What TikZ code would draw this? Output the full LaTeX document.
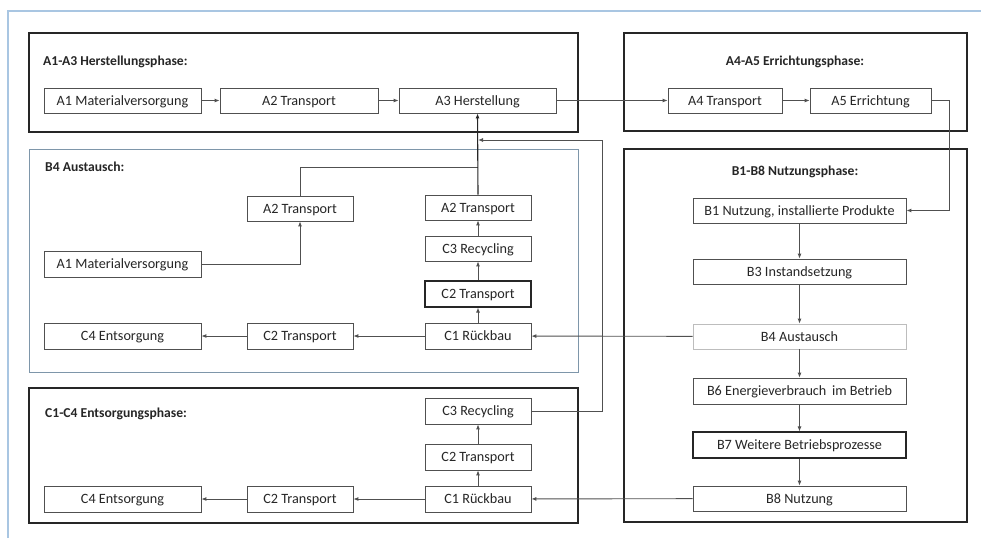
\documentclass[tikz,border=0pt]{standalone}
\usepackage{fontspec}
\setmainfont{Carlito}
\usetikzlibrary{arrows.meta,calc}
\definecolor{framebl}{HTML}{A9C6E2}
\definecolor{panelbl}{HTML}{7E96AA}
\definecolor{ink}{HTML}{262626}
\definecolor{edge}{HTML}{505050}
\definecolor{lightedge}{HTML}{BDBDBD}
\tikzset{
  box/.style={draw=edge, line width=0.8pt, fill=white, inner sep=0pt,
    text=ink, font=\fontsize{14.2}{16}\selectfont,
    text height=9.2pt, text depth=0pt},
  heavybox/.style={box, draw=ink, line width=1.1pt},
  faintbox/.style={box, draw=lightedge},
  phase/.style={draw=ink, line width=1.5pt, inner sep=0pt},
  title/.style={text=ink, font=\fontsize{13.6}{16}\selectfont\bfseries, inner sep=0pt},
  link/.style={draw=edge, line width=0.9pt},
  arr/.style={link, -{Latex[length=5pt,width=4pt]}},
}
\newcommand{\boxat}[6]{% style, name, x1, y1, x2, y2
  \node[#1, minimum width={#5-#3}, minimum height={#6-#4}] (#2)
    at ({(#3+#5)/2},{(#4+#6)/2})}
\begin{document}
\begin{tikzpicture}[x=1pt,y=-1pt]
\useasboundingbox (0,0) rectangle (981,538);
\fill[white] (0,0) rectangle (981,538);
% outer frame
\draw[framebl, line width=1.8pt] (8,538) -- (8,11) -- (981,11);

% phase panels
\boxat{phase}{pA}{29}{33}{578}{132}{};
\boxat{phase}{pE}{624}{33}{967}{131}{};
\boxat{phase}{pB}{624}{149}{967}{522}{};
\node[draw=panelbl, line width=1pt, inner sep=0pt, minimum width=549, minimum height=223]
  (pX) at (303.5,260.5) {};
\boxat{phase}{pC}{29}{388}{578}{523}{};

% panel titles
\node[title, anchor=west] (tA) at (43,62) {A1-A3 Herstellungsphase:};
\node[title] (tE) at (795,62) {A4-A5 Errichtungsphase:};
\node[title] (tB) at (795,172) {B1-B8 Nutzungsphase:};
\node[title, anchor=west] (tX) at (45,167) {B4 Austausch:};
\node[title, anchor=west] (tC) at (45,414) {C1-C4 Entsorgungsphase:};

% A1-A3 production
\boxat{box}{a1}{44}{88}{201}{113}{A1 Materialversorgung};
\boxat{box}{a2}{220}{88}{378}{113}{A2 Transport};
\boxat{box}{a3}{399}{88}{556}{113}{A3 Herstellung};
% A4-A5 construction
\boxat{box}{a4}{668}{88}{782}{113}{A4 Transport};
\boxat{box}{a5}{810}{88}{931}{113}{A5 Errichtung};

% B1-B8 use
\boxat{box}{b1}{693}{198}{906}{223}{B1 Nutzung, installierte Produkte};
\boxat{box}{b3}{693}{259}{906}{284}{B3 Instandsetzung};
\boxat{faintbox}{b4}{693}{324}{906}{349}{B4 Austausch};
\boxat{box}{b6}{693}{378}{906}{404}{B6 Energieverbrauch\, im Betrieb};
\boxat{heavybox}{b7}{693}{432}{906}{458}{B7 Weitere Betriebsprozesse};
\boxat{box}{b8}{693}{486}{906}{511}{B8 Nutzung};

% B4 replacement
\boxat{box}{xa2l}{247}{196}{353}{221}{A2 Transport};
\boxat{box}{xa1}{44}{251}{201}{277}{A1 Materialversorgung};
\boxat{box}{xa2r}{425}{195}{531}{220}{A2 Transport};
\boxat{box}{xc3}{425}{236}{531}{261}{C3 Recycling};
\boxat{heavybox}{xc2v}{425}{281}{531}{307}{C2 Transport};
\boxat{box}{xc1}{425}{323}{531}{349}{C1 Rückbau};
\boxat{box}{xc2}{247}{323}{353}{349}{C2 Transport};
\boxat{box}{xc4}{44}{323}{201}{349}{C4 Entsorgung};

% C1-C4 disposal
\boxat{box}{c3}{425}{398}{531}{424}{C3 Recycling};
\boxat{box}{c2v}{425}{444}{531}{470}{C2 Transport};
\boxat{box}{c1}{425}{486}{531}{512}{C1 Rückbau};
\boxat{box}{c2}{247}{486}{353}{512}{C2 Transport};
\boxat{box}{c4}{44}{486}{201}{512}{C4 Entsorgung};

% routing points
\coordinate (ra) at (949,210.5);
\coordinate (j1) at (478,167);
\coordinate (j2) at (478,140);
\coordinate (rb) at (602,140);

% flow along the production and construction phases
\draw[arr] (a1) -- (a2);
\draw[arr] (a2) -- (a3);
\draw[arr] (a3) -- (a4);
\draw[arr] (a4) -- (a5);
\draw[arr] (a5.east) -| (ra) -- (b1.east);

% use phase chain
\draw[arr] (b1) -- (b3);
\draw[arr] (b3) -- (b4);
\draw[arr] (b4) -- (b6);
\draw[arr] (b6) -- (b7);
\draw[arr] (b7) -- (b8);

% replacement loop
\draw[arr] (b4) -- (xc1);
\draw[arr] (xc1) -- (xc2);
\draw[arr] (xc2) -- (xc4);
\draw[arr] (xc1) -- (xc2v);
\draw[arr] (xc2v) -- (xc3);
\draw[arr] (xc3) -- (xa2r);
\draw[arr] (xa1.east) -| (xa2l.south);
\draw[link] (xa2l.north) |- (j1);
\draw[arr, draw=ink, line width=1.1pt] (xa2r.north) -- (a3.south);

% end of life
\draw[arr] (b8) -- (c1);
\draw[arr] (c1) -- (c2);
\draw[arr] (c2) -- (c4);
\draw[arr] (c1) -- (c2v);
\draw[arr] (c2v) -- (c3);
\draw[arr] (c3.east) -| (rb) -- (j2);
\end{tikzpicture}
\end{document}
